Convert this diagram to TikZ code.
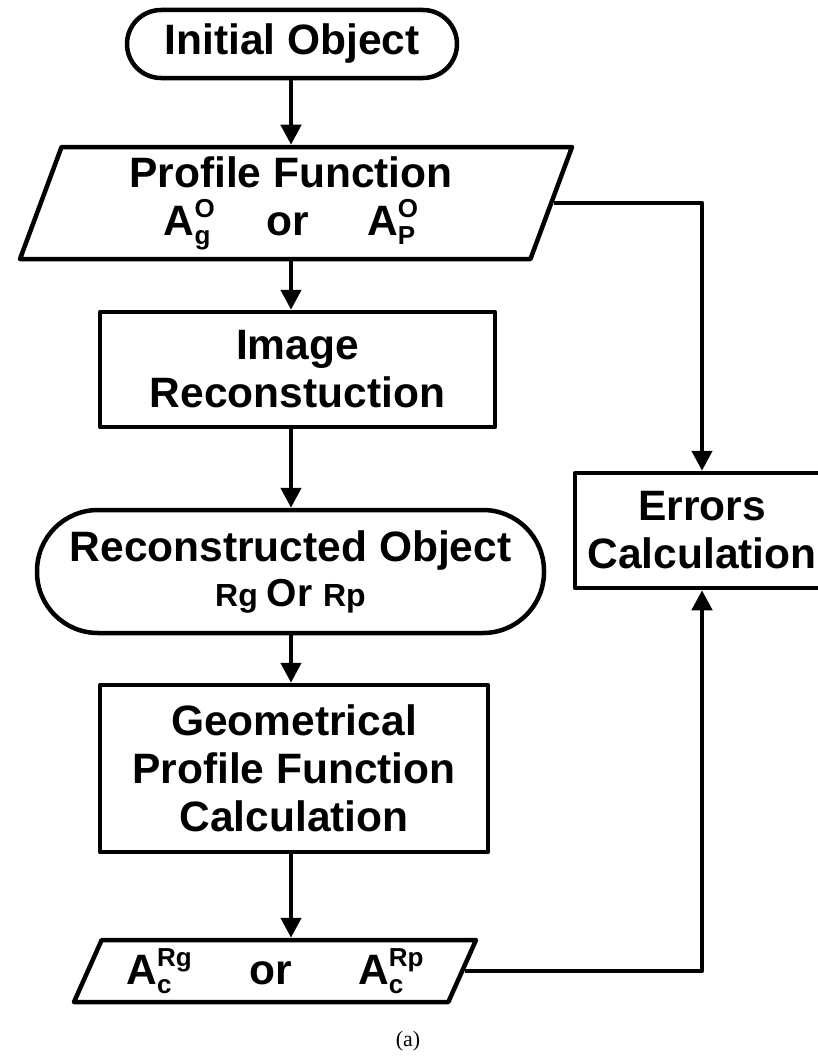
\documentclass[tikz,border=0pt]{standalone}
\usepackage{fontspec}
\setmainfont{Liberation Sans}
\newfontfamily\capfont{Liberation Serif}
\usetikzlibrary{shapes.geometric,arrows.meta}
\newcommand\scr{\fontsize{26}{26}\selectfont}
\newcommand\AS[2]{A\setbox0=\hbox{\scr #1}\setbox2=\hbox{\scr #2}\dimen0=\wd0 \ifdim\wd2>\dimen0 \dimen0=\wd2 \fi\hbox to\dimen0{\rlap{\raise 18pt\box0}\lower 9pt\box2\hfil}}
\begin{document}
\begin{tikzpicture}[x=1pt,y=-1pt,line width=4.5pt,line join=round,
  every node/.append style={font=\bfseries\fontsize{42.5}{48}\selectfont,align=center},
  proc/.style={draw,rectangle,inner sep=0pt},
  termbox/.style={draw,rectangle,rounded corners=#1,inner sep=0pt},
  io/.style={draw,trapezium,trapezium stretches body=true,inner sep=0pt},
  arr/.style={-{Triangle[length=20pt,width=20pt]}}]
\useasboundingbox (0,0) rectangle (817,1057);
\node[termbox=34pt,minimum width=330pt,minimum height=68pt] (init) at (292,44) {Initial Object};
\node[io,trapezium left angle=66,trapezium right angle=114,minimum width=552pt,minimum height=112pt] (prof) at (296,203)
  {\hspace*{-10pt}Profile Function\\ \hspace*{-10pt}\AS{O}{g}\hspace{52pt}or\hspace{58pt}\AS{O}{P}};
\node[proc,minimum width=395pt,minimum height=115pt] (img) at (297.5,369.5) {Image\\Reconstuction};
\node[termbox=61pt,minimum width=507pt,minimum height=123pt] (rec) at (290.5,571.5)
  {Reconstructed Object\\[-3pt] {\fontsize{32}{32}\selectfont Rg \fontsize{39}{39}\selectfont Or \fontsize{32}{32}\selectfont Rp}};
\node[proc,minimum width=388pt,minimum height=167pt] (geo) at (294,768.5) {Geometrical\\Profile Function\\Calculation};
\node[io,trapezium left angle=58.5,trapezium right angle=121.5,minimum width=402pt,minimum height=62pt] (out) at (275,971)
  {\AS{Rg}{c}\hspace{58pt}or\hspace{66pt}\AS{Rp}{c}};
\node[proc,minimum width=254pt,minimum height=115pt] (err) at (702,530.5) {Errors\\Calculation};
\node[font=\capfont\fontsize{22}{26}\selectfont] (cap) at (408,1041) {(a)};
\coordinate (col) at (291,0);
\draw[arr] (col |- init.south) -- (col |- prof.north);
\draw[arr] (col |- prof.south) -- (col |- img.north);
\draw[arr] (col |- img.south) -- (col |- rec.north);
\draw[arr] (col |- rec.south) -- (col |- geo.north);
\draw[arr] (col |- geo.south) -- (col |- out.north);
\draw[arr] (prof.east) -| (err.north);
\draw[arr] (out.east) -| (err.south);
\end{tikzpicture}
\end{document}
